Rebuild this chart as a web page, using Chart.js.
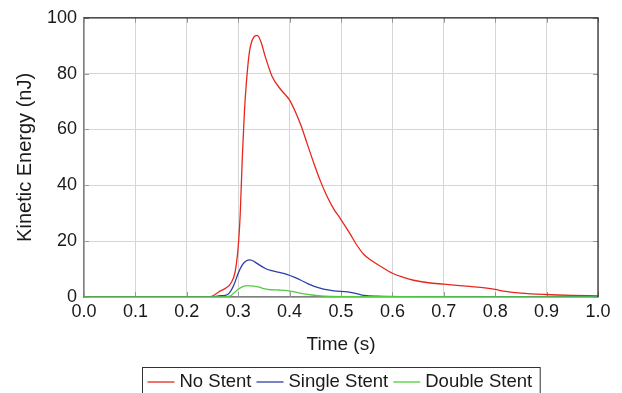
<!DOCTYPE html>
<html>
<head>
<meta charset="utf-8">
<script src="https://cdn.jsdelivr.net/npm/chart.js@4/dist/chart.umd.min.js"></script>
<style>
  html, body { margin: 0; padding: 0; background: #fff; }
</style>
</head>
<body>
<canvas id="keChart" width="622" height="393"></canvas>
<script>
// time (s) and kinetic energy (nJ)
const noStentTime = [0, 0.24, 0.25, 0.262, 0.276, 0.286, 0.294, 0.300, 0.304, 0.308, 0.312, 0.316, 0.322, 0.330, 0.337, 0.345, 0.352, 0.366, 0.382, 0.400, 0.412, 0.422, 0.435, 0.447, 0.460, 0.473, 0.486, 0.499, 0.518, 0.530, 0.544, 0.560, 0.577, 0.600, 0.620, 0.641, 0.670, 0.700, 0.750, 0.780, 0.800, 0.820, 0.850, 0.900, 0.950, 1.0];
const noStentKE   = [0, 0, 0.3, 1.8, 3.2, 5, 9, 18, 30, 50, 66, 77, 88, 93, 93.7, 91, 86.5, 79, 74.5, 70.5, 66, 61.5, 54.5, 48, 41.5, 36, 31.5, 28, 22.5, 18.8, 15.3, 13, 11, 8.5, 7.1, 6, 5.1, 4.6, 3.8, 3.3, 2.7, 2.0, 1.4, 0.9, 0.6, 0.4];

const singleTime = [0, 0.25, 0.262, 0.275, 0.283, 0.292, 0.300, 0.308, 0.316, 0.323, 0.332, 0.341, 0.352, 0.363, 0.380, 0.396, 0.410, 0.422, 0.435, 0.448, 0.466, 0.486, 0.513, 0.530, 0.545, 0.570, 0.650, 1.0];
const singleKE   = [0, 0, 0.4, 0.6, 1.5, 4.5, 8.5, 11.5, 13, 13.3, 12.6, 11.5, 10.3, 9.5, 8.8, 8, 7, 6, 4.8, 3.8, 2.8, 2.2, 1.8, 1.2, 0.6, 0.3, 0.1, 0];

const doubleTime = [0, 0.27, 0.285, 0.292, 0.300, 0.310, 0.318, 0.330, 0.341, 0.352, 0.363, 0.380, 0.396, 0.410, 0.422, 0.440, 0.454, 0.48, 0.55, 1.0];
const doubleKE   = [0, 0, 0.4, 1.5, 2.8, 3.8, 4.1, 3.9, 3.5, 2.9, 2.6, 2.5, 2.3, 1.8, 1.3, 0.8, 0.5, 0.2, 0.1, 0];

const seriesLabels = ['No Stent', 'Single Stent', 'Double Stent'];
const seriesColors = ['#e8261e', '#2c3fa6', '#52cc3f'];

const FONT = '"Liberation Sans", Arial, Helvetica, sans-serif';
const TEXT = '#1a1a1a';

function toPoints(xs, ys) {
    return xs.map((x, i) => ({ x: x, y: ys[i] }));
}

// top/right frame plus the small inward tick marks
const frameTicks = {
    id: 'frameTicks',
    beforeDatasetsDraw(chart) {
        const { ctx, chartArea: a, scales: { x, y } } = chart;
        ctx.save();
        ctx.strokeStyle = '#9a9a9a';
        ctx.lineWidth = 1;
        ctx.beginPath();
        x.ticks.forEach(t => {
            const px = Math.round(x.getPixelForValue(t.value)) + 0.5;
            ctx.moveTo(px, a.bottom); ctx.lineTo(px, a.bottom - 5);
            ctx.moveTo(px, a.top); ctx.lineTo(px, a.top + 5);
        });
        y.ticks.forEach(t => {
            const py = Math.round(y.getPixelForValue(t.value)) + 0.5;
            ctx.moveTo(a.left, py); ctx.lineTo(a.left + 5, py);
            ctx.moveTo(a.right, py); ctx.lineTo(a.right - 5, py);
        });
        ctx.stroke();
        ctx.restore();
    },
    afterDraw(chart) {
        const { ctx, chartArea: a } = chart;
        ctx.save();
        ctx.strokeStyle = '#222';
        ctx.lineWidth = 1.2;
        ctx.beginPath();
        ctx.moveTo(a.left, a.top);
        ctx.lineTo(a.right, a.top);
        ctx.lineTo(a.right, a.bottom);
        ctx.stroke();
        ctx.restore();
    }
};

// boxed legend under the plot
const boxLegend = {
    id: 'boxLegend',
    afterDraw(chart) {
        const { ctx, chartArea: a } = chart;
        const lineLen = 27, gap = 5, padL = 5, padR = 8;
        ctx.save();
        ctx.font = '18.5px ' + FONT;
        const items = chart.data.datasets.map(ds => ({ label: ds.label, color: ds.borderColor, w: ctx.measureText(ds.label).width }));
        let total = padL + padR;
        items.forEach((it, i) => { total += lineLen + gap + it.w + (i < items.length - 1 ? gap : 0); });
        const cx = (a.left + a.right) / 2;
        let left = Math.round(cx - total / 2) + 0.5;
        const top = 367.5, midY = 382;
        ctx.strokeStyle = '#333';
        ctx.lineWidth = 1;
        ctx.strokeRect(left, top, total, 40);
        let xPos = left + padL;
        ctx.textBaseline = 'middle';
        ctx.textAlign = 'left';
        items.forEach(it => {
            ctx.strokeStyle = it.color;
            ctx.lineWidth = 1.3;
            ctx.beginPath();
            ctx.moveTo(xPos, midY); ctx.lineTo(xPos + lineLen, midY);
            ctx.stroke();
            xPos += lineLen + gap;
            ctx.fillStyle = TEXT;
            ctx.fillText(it.label, xPos, midY);
            xPos += it.w + gap;
        });
        ctx.restore();
    }
};

const ctxKE = document.getElementById('keChart').getContext('2d');
const keChart = new Chart(ctxKE, {
    type: 'line',
    data: {
        datasets: [
            { label: seriesLabels[0], data: toPoints(noStentTime, noStentKE), borderColor: seriesColors[0], order: 3 },
            { label: seriesLabels[1], data: toPoints(singleTime, singleKE), borderColor: seriesColors[1], order: 2 },
            { label: seriesLabels[2], data: toPoints(doubleTime, doubleKE), borderColor: seriesColors[2], order: 1 }
        ]
    },
    options: {
        responsive: false,
        animation: false,
        layout: { padding: { top: 17, right: 24, bottom: 26, left: 0 } },
        elements: {
            line: { borderWidth: 1.3, tension: 0.4, cubicInterpolationMode: 'monotone', fill: false },
            point: { radius: 0 }
        },
        plugins: {
            legend: { display: false },
            tooltip: { enabled: false }
        },
        scales: {
            x: {
                type: 'linear',
                min: 0, max: 1,
                afterFit: s => { s.height = 70; },
                grid: { color: '#d6d6d6', lineWidth: 1, drawTicks: false },
                border: { color: '#7f7f7f', width: 1.5 },
                ticks: {
                    stepSize: 0.1, padding: 4, color: TEXT, maxRotation: 0,
                    font: { family: FONT, size: 18 },
                    callback: v => v.toFixed(1)
                },
                title: { display: true, text: 'Time (s)', color: TEXT, font: { family: FONT, size: 19 }, padding: { top: 0, bottom: 11 } }
            },
            y: {
                min: 0, max: 100,
                afterFit: s => { s.width = 84; },
                grid: { color: '#d6d6d6', lineWidth: 1, drawTicks: false },
                border: { color: '#7f7f7f', width: 1.5 },
                ticks: { stepSize: 20, padding: 7, color: TEXT, font: { family: FONT, size: 18 } },
                title: { display: true, text: 'Kinetic Energy (nJ)', color: TEXT, font: { family: FONT, size: 20 }, padding: { top: 13, bottom: 0 } }
            }
        }
    },
    plugins: [frameTicks, boxLegend]
});
</script>
</body>
</html>
